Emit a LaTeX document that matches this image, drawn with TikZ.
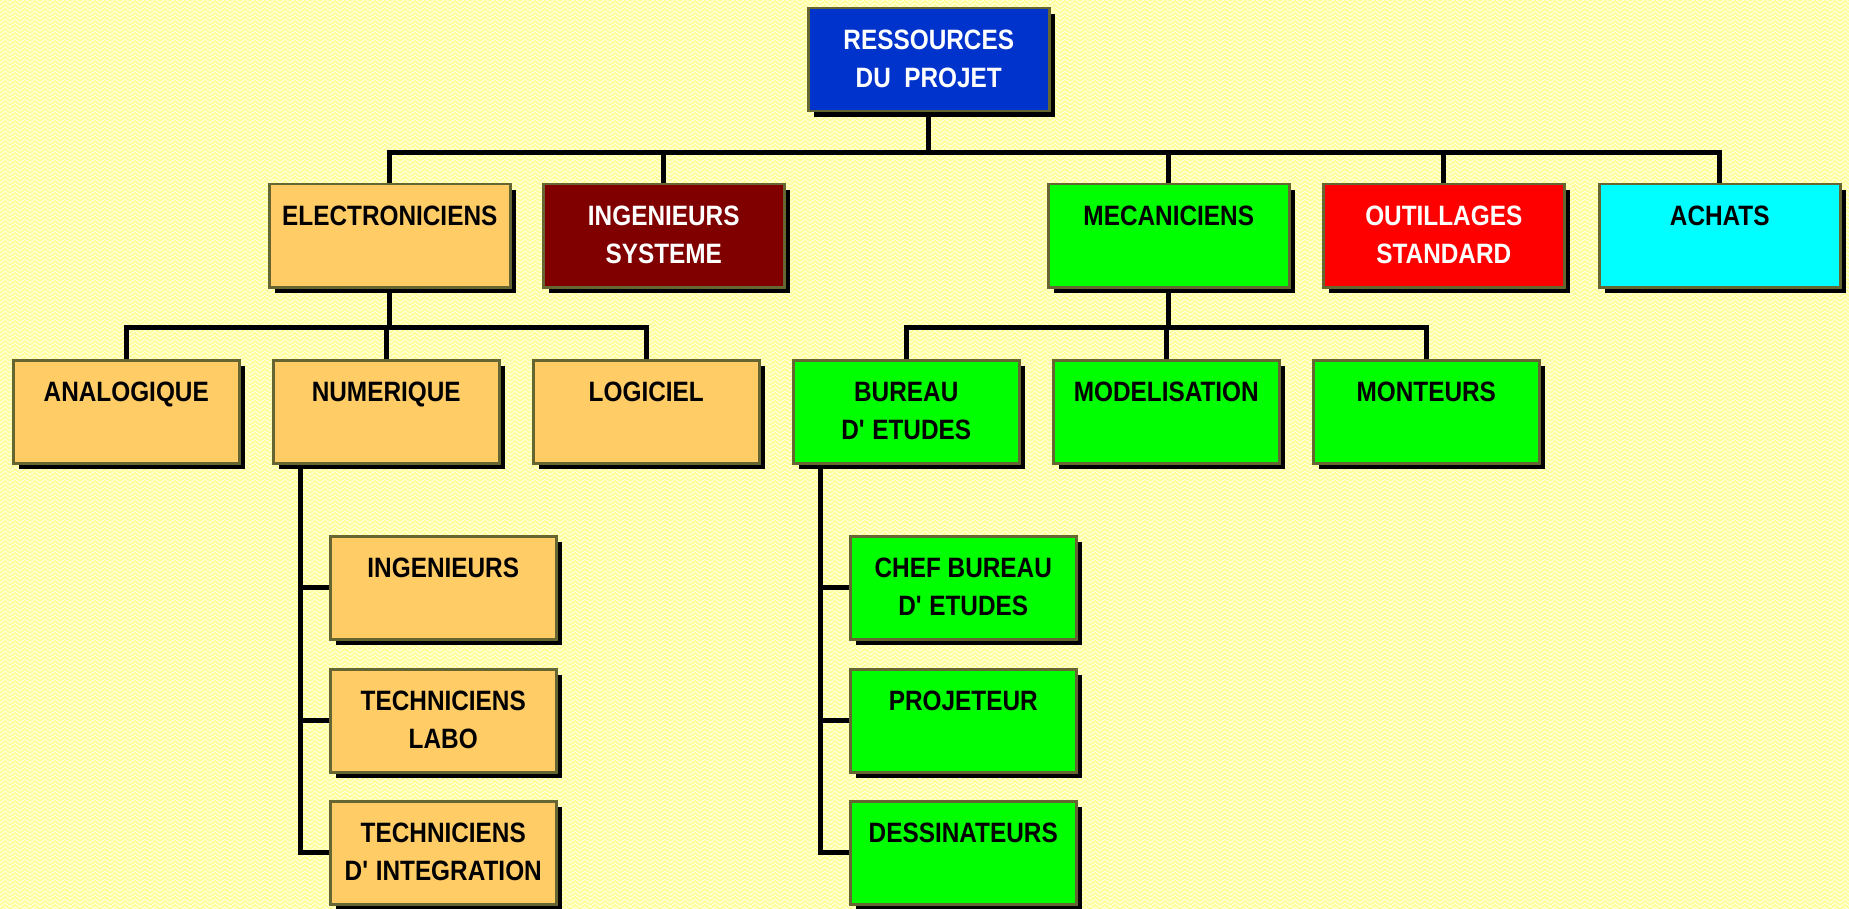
\documentclass[tikz,border=0pt]{standalone}
\usepackage{fontspec}
\setmainfont{Liberation Sans}[FakeStretch=0.87]
\usetikzlibrary{shadows,patterns}

\pgfdeclarelayer{back}
\pgfsetlayers{back,main}

\pgfdeclarepatternformonly{weave}{\pgfpoint{-1pt}{-1pt}}{\pgfpoint{11pt}{9pt}}{\pgfpoint{10pt}{8pt}}{
  \pgfsetlinewidth{1.8pt}
  \pgfpathmoveto{\pgfpoint{0pt}{0pt}}
  \pgfpathlineto{\pgfpoint{5pt}{4pt}}
  \pgfpathlineto{\pgfpoint{10pt}{0pt}}
  \pgfpathmoveto{\pgfpoint{0pt}{4pt}}
  \pgfpathlineto{\pgfpoint{5pt}{8pt}}
  \pgfpathlineto{\pgfpoint{10pt}{4pt}}
  \pgfusepath{stroke}
}

\definecolor{paper}{HTML}{FFFFE2}
\definecolor{weft}{HTML}{FFFF99}
\definecolor{edge}{HTML}{666633}
\definecolor{royal}{HTML}{0033CC}
\definecolor{peach}{HTML}{FFCC66}
\definecolor{maroon}{HTML}{800000}
\definecolor{lime}{HTML}{00FF00}
\definecolor{flame}{HTML}{FF0000}
\definecolor{aqua}{HTML}{00FFFF}

\begin{document}
\begin{tikzpicture}[
    x = 1pt,
    y = -1pt,
    wire/.style = {
      black,
      line width = 5pt
    },
    box/.style = {
      draw = edge,
      line width = 2.5pt,
      anchor = north west,
      minimum width = 226pt,
      inner xsep = 0pt,
      inner ysep = 0pt,
      text height = 41pt,
      text depth = 62pt,
      align = center,
      font = \fontsize{28}{38}\selectfont\bfseries,
      drop shadow = {shadow xshift = 6pt, shadow yshift = -6pt,
                     fill = black, opacity = 1}
    },
    big/.style = {
      box,
      minimum width = 241pt
    },
    two/.style = {
      text height = 79pt,
      text depth = 24pt
    }
  ]
  \useasboundingbox (0,0) rectangle (1849,909);
  \begin{pgfonlayer}{back}
    \fill[paper] (0,0) rectangle (1849,909);
    \fill[pattern = weave, pattern color = weft] (0,0) rectangle (1849,909);
  \end{pgfonlayer}

  % top
  \node[big, two, fill = royal, text = white] (projet) at (807,7) {RESSOURCES\\DU\ \ PROJET};

  % first row
  \node[big, fill = peach] (elec) at (268,183) {ELECTRONICIENS};
  \node[big, two, fill = maroon, text = white] (ingsys) at (542,183) {INGENIEURS\\SYSTEME};
  \node[big, fill = lime] (meca) at (1047,183) {MECANICIENS};
  \node[big, two, fill = flame, text = white] (outil) at (1322,183) {OUTILLAGES\\STANDARD};
  \node[big, fill = aqua] (achats) at (1598,183) {ACHATS};

  % second row
  \node[box, fill = peach] (analog) at (12,359) {ANALOGIQUE};
  \node[box, fill = peach] (numer) at (272,359) {NUMERIQUE};
  \node[box, fill = peach] (logic) at (532,359) {LOGICIEL};
  \node[box, two, fill = lime] (bureau) at (792,359) {BUREAU\\D\textquotesingle{} ETUDES};
  \node[box, fill = lime] (model) at (1052,359) {MODELISATION};
  \node[box, fill = lime] (mont) at (1312,359) {MONTEURS};

  % third row
  \node[box, fill = peach] (ing) at (329,535) {INGENIEURS};
  \node[box, two, fill = peach] (labo) at (329,668) {TECHNICIENS\\LABO};
  \node[box, two, fill = peach] (integ) at (329,800) {TECHNICIENS\\D\textquotesingle{} INTEGRATION};
  \node[box, two, fill = lime] (chef) at (849,535) {CHEF BUREAU\\D\textquotesingle{} ETUDES};
  \node[box, fill = lime] (proj) at (849,668) {PROJETEUR};
  \node[box, fill = lime] (dess) at (849,800) {DESSINATEURS};

  \begin{pgfonlayer}{back}
    \foreach \n in {elec, ingsys, meca, outil, achats}
      \draw[wire] (projet.south) -- ++(0,40) -| (\n.north);
    \foreach \n in {analog, numer, logic}
      \draw[wire] (elec.south) -- ++(0,39) -| (\n.north);
    \foreach \n in {bureau, model, mont}
      \draw[wire] (meca.south) -- ++(0,39) -| (\n.north);
    \foreach \n in {ing, labo, integ}
      \draw[wire] ([xshift = 28pt]numer.south west) |- (\n.west);
    \foreach \n in {chef, proj, dess}
      \draw[wire] ([xshift = 28pt]bureau.south west) |- (\n.west);
  \end{pgfonlayer}
\end{tikzpicture}
\end{document}
